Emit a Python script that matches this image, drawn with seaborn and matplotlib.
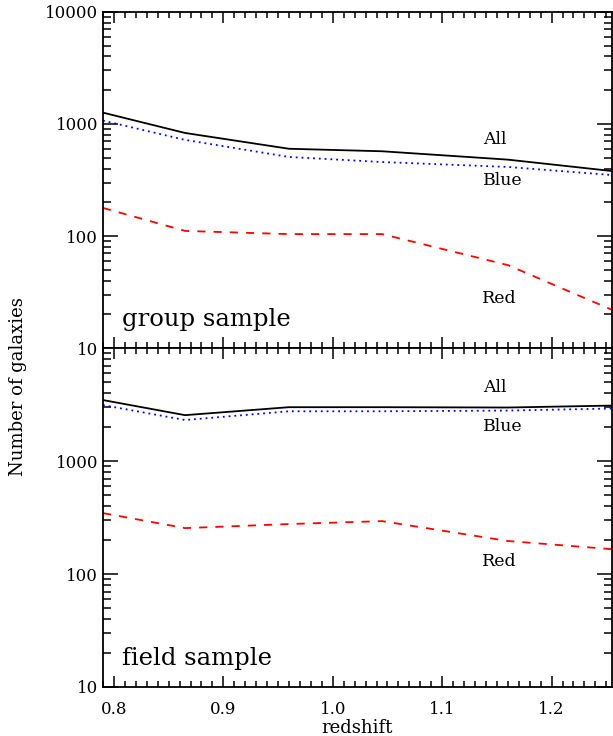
import numpy as np
import pandas as pd
import matplotlib
matplotlib.use("Agg")
import matplotlib.pyplot as plt
from matplotlib.ticker import FixedLocator, LogLocator, NullFormatter, MultipleLocator
import seaborn as sns

# Redshift bins
redshift = [0.79, 0.865, 0.96, 1.045, 1.16, 1.255]

# Group sample counts
group_all = [1260, 830, 600, 570, 480, 380]
group_blue = [1070, 720, 507, 457, 413, 350]
group_red = [178, 111, 104, 104, 55, 22]

# Field sample counts
field_all = [3470, 2550, 3000, 3000, 2980, 3100]
field_blue = [3130, 2310, 2760, 2760, 2800, 2920]
field_red = [346, 255, 277, 294, 196, 166]

series_names = ["All", "Blue", "Red"]
y_ticks = [10, 100, 1000, 10000]

sns.set_style("white")
plt.rcParams["font.family"] = ["DejaVu Serif"]
plt.rcParams["text.color"] = "black"
plt.rcParams["axes.labelcolor"] = "black"
plt.rcParams["xtick.color"] = "black"
plt.rcParams["ytick.color"] = "black"

fig = plt.figure(figsize=(6.13, 7.36), dpi=100)
ax_top = fig.add_axes([0.168, 0.527, 0.830, 0.457])
ax_bot = fig.add_axes([0.168, 0.0666, 0.830, 0.4604], sharex=ax_top)

styles = {"All": dict(color="black", ls="-"),
          "Blue": dict(color="blue", ls=(0, (1, 2.2))),
          "Red": dict(color="red", ls=(0, (4.5, 4.5)))}


def draw_panel(ax, counts, title, label_pos, show_top_label):
    for name, vals in zip(series_names, counts):
        df = pd.DataFrame({"redshift": redshift, "count": vals})
        st = styles[name]
        sns.lineplot(data=df, x="redshift", y="count", ax=ax, color=st["color"],
                     linestyle=st["ls"], linewidth=1.3, legend=False)
    ax.set_yscale("log")
    ax.set_ylim(10, 10000)
    ax.set_xlim(0.79, 1.255)
    for name, (lx, ly) in zip(series_names, label_pos):
        ax.text(lx, ly, name, fontsize=12.5, ha="center", va="center", color="black")
    ax.text(0.037, 0.085, title, transform=ax.transAxes, fontsize=17.5,
            ha="left", va="center", color="black")
    ax.yaxis.set_major_locator(FixedLocator(y_ticks if show_top_label else y_ticks[:3]))
    ax.yaxis.set_major_formatter(plt.FuncFormatter(lambda v, p: f"{int(round(v))}"))
    ax.yaxis.set_minor_locator(LogLocator(base=10, subs=np.arange(2, 10)))
    ax.yaxis.set_minor_formatter(NullFormatter())
    ax.xaxis.set_major_locator(MultipleLocator(0.1))
    ax.xaxis.set_minor_locator(MultipleLocator(0.01))
    ax.tick_params(which="both", direction="in", top=True, right=True,
                   left=True, bottom=True, labelsize=12, width=1.1,
                   colors="black")
    ax.tick_params(axis="y", which="major", length=11)
    ax.tick_params(axis="y", which="minor", length=6)
    ax.tick_params(axis="x", which="major", length=8, pad=10)
    ax.tick_params(axis="x", which="minor", length=4)
    for sp in ax.spines.values():
        sp.set_linewidth(1.3)
        sp.set_color("black")
    ax.set_xlabel("")
    ax.set_ylabel("")


draw_panel(ax_top, [group_all, group_blue, group_red], "group sample",
           [(1.148, 720), (1.155, 310), (1.152, 27.5)], True)
draw_panel(ax_bot, [field_all, field_blue, field_red], "field sample",
           [(1.148, 4520), (1.155, 2040), (1.152, 128)], False)

ax_top.tick_params(labelbottom=False)
ax_bot.xaxis.set_major_formatter(plt.FuncFormatter(lambda v, p: f"{v:.1f}"))
ax_bot.set_xlabel("redshift", fontsize=13, labelpad=1, color="black")
fig.text(0.030, 0.475, "Number of galaxies", rotation=90, fontsize=13,
         ha="center", va="center", color="black")

fig.savefig("out.png", dpi=100)
